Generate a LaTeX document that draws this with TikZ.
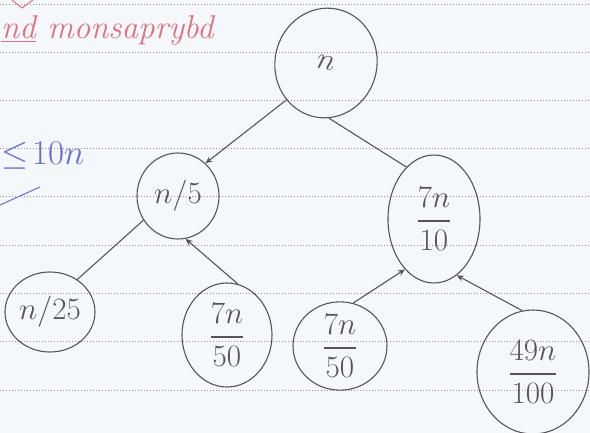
\documentclass[tikz,border=0pt]{standalone}
\usepackage{amsmath}
\usepackage{graphicx}
\usetikzlibrary{shapes.geometric,arrows.meta}
\definecolor{paper}{HTML}{F4F8FB}
\definecolor{pencil}{HTML}{55555A}
\definecolor{rule}{HTML}{9A8E94}
\definecolor{redink}{HTML}{E0707E}
\definecolor{blueink}{HTML}{6B6FCB}
\newcommand\handbig[1]{\scalebox{1.25}{#1}}
\begin{document}
\begin{tikzpicture}[x=1pt,y=-1pt,
  bubble/.style={draw=pencil,line width=1.1pt,ellipse,inner sep=0pt,text=pencil,
    font=\fontsize{24.88}{28}\selectfont},
  link/.style={draw=pencil,line width=1.1pt},
  tip/.style={link,-{Stealth[length=7pt,width=6pt]}},
  ruling/.style={draw=rule,line width=1pt,dash pattern=on 1pt off 2pt}]
\useasboundingbox (0,0) rectangle (590,433);
\fill[paper] (0,0) rectangle (590,433);
\foreach \yy in {5,53,101,149,197,246,294,342,390}
  \draw[ruling] (0,\yy) -- (590,\yy);
% nodes
\node[bubble,minimum width=102pt,minimum height=110pt,rotate=-12] (A) at (326,63) {\raisebox{-8pt}{\handbig{$n$}}\hspace{14pt}};
\node[bubble,minimum width=82pt,minimum height=86pt] (n5) at (178,196) {\handbig{$n/5$}};
\node[bubble,minimum width=92pt,minimum height=128pt] (n710) at (434,219) {\handbig{$\dfrac{7n}{10}$}};
\node[bubble,minimum width=90pt,minimum height=80pt] (n25) at (50,312) {\handbig{$n/25$}};
\node[bubble,minimum width=90pt,minimum height=104pt] (n750a) at (227,335) {\handbig{$\dfrac{7n}{50}$}};
\node[bubble,minimum width=94pt,minimum height=88pt] (n750b) at (340,346) {\handbig{$\dfrac{7n}{50}$}};
\node[bubble,minimum width=112pt,minimum height=124pt] (n49) at (533,372) {\handbig{$\dfrac{49n}{100}$}};
% connectors
\draw[tip] (A.235) -- (n5.50);
\draw[link] (A.285) -- (n710.118);
\draw[link] (n5.215) -- (n25.50);
\draw[tip] (n750a.78) -- (n5.280);
\draw[tip] (n750b.73) -- (n710.240);
\draw[tip] (n49.100) -- (n710.292);
% margin notes
\node[text=redink,font=\fontsize{33}{35}\itshape,anchor=west,inner sep=0pt] (red) at (1,30)
  {\underline{nd} monsaprybd};
\draw[redink,line width=1pt] (12,0) -- (22,8) -- (33,0);
\node[text=blueink,font=\fontsize{24.88}{28}\selectfont,anchor=west,inner sep=0pt] (blue) at (1,156) {\scalebox{1.4}{$\leq\!10n$}};
\draw[blueink,line width=1pt] (0,205) -- (40,187);
\end{tikzpicture}
\end{document}
